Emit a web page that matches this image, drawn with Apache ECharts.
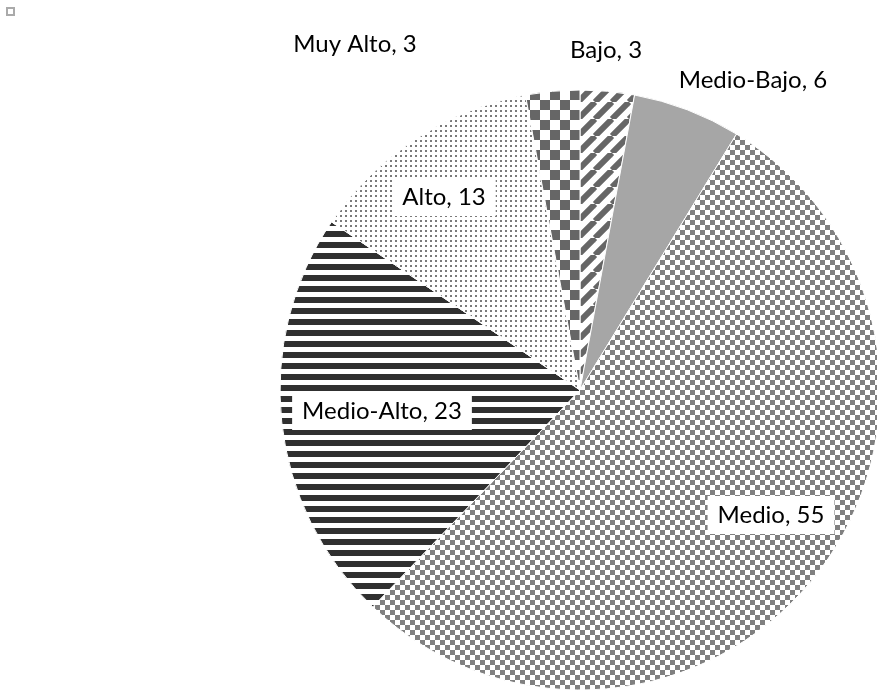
<!DOCTYPE html>
<html>
<head>
<meta charset="utf-8">
<script src="https://cdn.jsdelivr.net/npm/echarts@6/dist/echarts.min.js"></script>
<style>
html, body { margin: 0; padding: 0; background: #fff; }
#chart { width: 877px; height: 698px; }
</style>
</head>
<body>
<div id="chart"></div>
<script>
// data
var categories = ['Bajo', 'Medio-Bajo', 'Medio', 'Medio-Alto', 'Alto', 'Muy Alto']
var values = [3, 6, 55, 23, 13, 3]

// where each label text sits (center), in px
var labelSpots = [[606, 50], [753, 80], [771, 515], [382, 411], [444, 197], [355, 44]]
var boxedLabels = [false, false, true, true, true, false]

function makePattern(size, draw) {
    var c = document.createElement('canvas')
    c.width = size
    c.height = size
    var ctx = c.getContext('2d')
    ctx.fillStyle = '#fff'
    ctx.fillRect(0, 0, size, size)
    draw(ctx, size)
    return { image: c, repeat: 'repeat' }
}

// one fill per slice, same order as categories
var fills = [
    // diagonal stripes
    makePattern(17, function (ctx, s) {
        ctx.strokeStyle = '#666'
        ctx.lineWidth = 6
        for (var k = -1; k <= 1; k++) {
            ctx.beginPath()
            ctx.moveTo(k * s, s)
            ctx.lineTo(k * s + s, 0)
            ctx.stroke()
        }
    }),
    '#a6a6a6',
    // small checker
    makePattern(10, function (ctx, s) {
        ctx.fillStyle = '#808080'
        ctx.fillRect(0, 0, 5, 5)
        ctx.fillRect(5, 5, 5, 5)
    }),
    // horizontal stripes
    makePattern(11, function (ctx, s) {
        ctx.fillStyle = '#303030'
        ctx.fillRect(0, 0, s, 6)
    }),
    // dots
    makePattern(5, function (ctx, s) {
        ctx.fillStyle = '#7a7a7a'
        ctx.fillRect(0, 0, 2, 2)
    }),
    // large checker
    makePattern(20, function (ctx, s) {
        ctx.fillStyle = '#666'
        ctx.fillRect(0, 0, 10, 10)
        ctx.fillRect(10, 10, 10, 10)
    })
]

var chart = echarts.init(document.getElementById('chart'))

var pieData = categories.map(function (name, i) {
    var item = {
        name: name,
        value: values[i],
        itemStyle: { color: fills[i] }
    }
    if (boxedLabels[i]) {
        item.label = { backgroundColor: '#fff', padding: [7, 10] }
    }
    return item
})

chart.setOption({
    animation: false,
    backgroundColor: '#fff',
    graphic: [
        {
            type: 'rect',
            shape: { x: 7, y: 8, width: 7, height: 7 },
            style: { fill: '#fff', stroke: '#aaa', lineWidth: 2 }
        }
    ],
    series: [
        {
            type: 'pie',
            center: [580, 390],
            radius: 300,
            startAngle: 90,
            clockwise: true,
            silent: true,
            avoidLabelOverlap: false,
            itemStyle: {
                borderColor: '#fff',
                borderWidth: 1
            },
            label: {
                show: true,
                position: 'inside',
                overflow: 'none',
                formatter: '{b}, {c}',
                fontFamily: 'Lato',
                fontSize: 24,
                color: '#000'
            },
            labelLine: { show: false },
            labelLayout: function (p) {
                var s = labelSpots[p.dataIndex]
                return { x: s[0], y: s[1], align: 'center', verticalAlign: 'middle', hideOverlap: false }
            },
            data: pieData
        }
    ]
})
</script>
</body>
</html>
